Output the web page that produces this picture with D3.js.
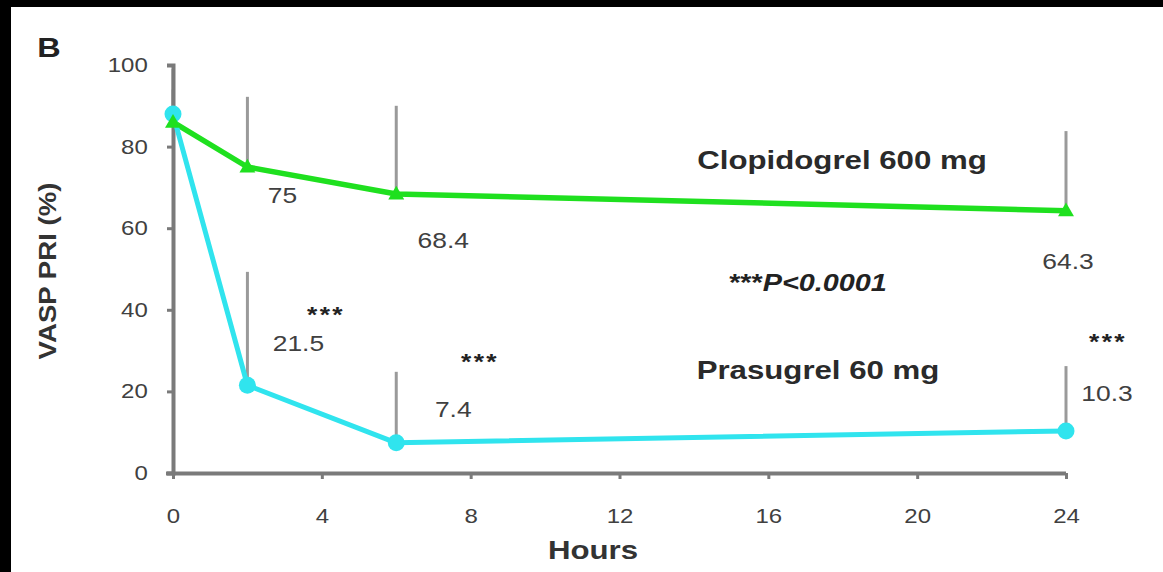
<!DOCTYPE html>
<html>
<head>
<meta charset="utf-8">
<script src="https://cdn.jsdelivr.net/npm/d3@7/dist/d3.min.js"></script>
<style>
  html, body { margin: 0; padding: 0; background: #000; }
  svg { display: block; }
  text { font-family: "Liberation Sans", Arial, sans-serif; }
</style>
</head>
<body>
<script>
// Time points (hours after loading dose)
const hours = [0, 2, 6, 24];

// VASP PRI (%) means per regimen
const clopidogrel = [86, 75, 68.4, 64.3];
const prasugrel = [88, 21.5, 7.4, 10.3];

// Upper ends of the standard-deviation bars
const clopidogrelUpper = [94, 92.2, 90, 83.8];
const prasugrelUpper = [99, 49.3, 24.8, 26.2];

// Labels printed next to each mean (time points after baseline)
const clopidogrelLabels = ["75", "68.4", "64.3"];
const prasugrelLabels = ["21.5", "7.4", "10.3"];

// Axis ticks
const xTicks = [0, 4, 8, 12, 16, 20, 24];
const yTicks = [0, 20, 40, 60, 80, 100];

const W = 1163, H = 572;
const SX = 1.2; // horizontal widening of the lettering
const svg = d3.select("body").append("svg").attr("width", W).attr("height", H);

// white panel inside the black frame
svg.append("rect").attr("x", 11).attr("y", 7).attr("width", W - 11).attr("height", H - 7).attr("fill", "#fff");

const x = d3.scaleLinear().domain([0, 24]).range([173, 1066]);
const y = d3.scaleLinear().domain([0, 100]).range([473, 65]);

const axisColor = "#7a7a7a";
const textColor = "#404040";

// centred, widened text helper
function label(cx, cy, t, opts) {
  const o = Object.assign({size: 22, weight: "normal", fill: textColor, rotate: 0, spacing: 0}, opts || {});
  return svg.append("text")
    .attr("transform", `translate(${cx},${cy}) rotate(${o.rotate}) scale(${SX},1)`)
    .attr("text-anchor", "middle").attr("dominant-baseline", "central")
    .attr("font-size", o.size).attr("font-weight", o.weight).attr("fill", o.fill)
    .attr("letter-spacing", o.spacing)
    .text(t);
}

// panel letter
label(49, 47, "B", {size: 27, weight: "bold", fill: "#222"});

// error bars (upper only)
const errG = svg.append("g").attr("stroke", "#9a9a9a").attr("stroke-width", 3);
function errBars(means, uppers) {
  errG.selectAll(null).data(hours.map((h, i) => ({h, m: means[i], u: uppers[i]})))
    .enter().append("line")
    .attr("x1", d => x(d.h)).attr("x2", d => x(d.h))
    .attr("y1", d => y(d.m)).attr("y2", d => y(d.u));
}
errBars(clopidogrel, clopidogrelUpper);
errBars(prasugrel, prasugrelUpper);

// axes
const yAxis = d3.axisLeft(y).tickValues(yTicks).tickSize(6).tickPadding(15);
const xAxis = d3.axisBottom(x).tickValues(xTicks).tickSize(6).tickPadding(30);

const gy = svg.append("g").attr("transform", "translate(173,0)").call(yAxis);
const gx = svg.append("g").attr("transform", "translate(0,473)").call(xAxis);
[gx, gy].forEach(g => {
  g.select(".domain").attr("stroke", axisColor).attr("stroke-width", 4);
  g.selectAll(".tick line").attr("stroke", axisColor).attr("stroke-width", 3);
  g.selectAll(".tick text").attr("fill", textColor).attr("font-size", 20)
    .attr("font-family", "'Liberation Sans', Arial, sans-serif")
    .attr("transform", `scale(${SX},1)`);
});
gx.select(".domain").attr("d", `M166,0.5H${x(24)}`);

// axis titles
label(593, 550, "Hours", {size: 26, weight: "bold", fill: "#333"});
label(48, 271, "VASP PRI (%)", {size: 23, weight: "bold", fill: "#333", rotate: -90});

// series lines
const line = d3.line().x((d, i) => x(hours[i])).y(d => y(d));
svg.append("path").datum(clopidogrel).attr("d", line).attr("fill", "none")
  .attr("stroke", "#1fe01f").attr("stroke-width", 5.5).attr("stroke-linejoin", "round");
svg.append("path").datum(prasugrel).attr("d", line).attr("fill", "none")
  .attr("stroke", "#30e4ee").attr("stroke-width", 5).attr("stroke-linejoin", "round");

// markers
svg.selectAll(null).data(prasugrel).enter().append("circle")
  .attr("cx", (d, i) => x(hours[i])).attr("cy", d => y(d)).attr("r", 8.5).attr("fill", "#30e4ee");
const tri = d3.symbol().type(d3.symbolTriangle).size(110);
svg.selectAll(null).data(clopidogrel).enter().append("path")
  .attr("d", tri).attr("fill", "#1fe01f")
  .attr("transform", (d, i) => `translate(${x(hours[i])},${y(d) + 1})`);

// value labels, offset from their means
label(x(hours[1]) + 35, y(clopidogrel[1]) + 28, clopidogrelLabels[0]);
label(x(hours[2]) + 47, y(clopidogrel[2]) + 46, clopidogrelLabels[1]);
label(x(hours[3]) + 2, y(clopidogrel[3]) + 51, clopidogrelLabels[2]);
label(x(hours[1]) + 51, y(prasugrel[1]) - 42, prasugrelLabels[0]);
label(x(hours[2]) + 57, y(prasugrel[2]) - 34, prasugrelLabels[1]);
label(x(hours[3]) + 41, y(prasugrel[3]) - 38, prasugrelLabels[2]);

// significance marks
const starOpts = {size: 22, weight: "bold", fill: "#222", spacing: 2};
label(326, 314, "***", starOpts);
label(480, 361, "***", starOpts);
label(1108, 341, "***", starOpts);

// P value note
const pv = label(808, 283, "", {size: 24, weight: "bold", fill: "#222"});
pv.append("tspan").text("***");
pv.append("tspan").attr("font-style", "italic").text("P<0.0001");

// series names
label(842, 160, "Clopidogrel 600 mg", {size: 26, weight: "bold", fill: "#2a2a2a"});
label(818, 370, "Prasugrel 60 mg", {size: 26, weight: "bold", fill: "#2a2a2a"});
</script>
</body>
</html>
